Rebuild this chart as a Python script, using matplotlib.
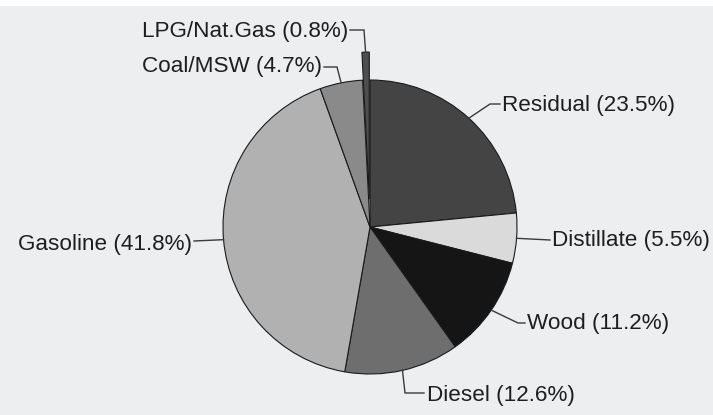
import numpy as np
import matplotlib.pyplot as plt
from matplotlib.patches import Rectangle

# fuel shares, clockwise from 12 o'clock
fuels = ['Residual', 'Distillate', 'Wood', 'Diesel', 'Gasoline', 'Coal/MSW', 'LPG/Nat.Gas']
shares = [23.5, 5.5, 11.2, 12.6, 41.8, 4.7, 0.8]
shades = ['#444444', '#dadada', '#151515', '#6e6e6e', '#b1b1b1', '#8a8a8a', '#4e4e4e']
explode = [0, 0, 0, 0, 0, 0, 0.19]

W, H = 713, 415
R = 147.0          # pie radius in pixels
CX, CY = 370, 227  # pie centre in pixels (from top-left)


def px(x, y):
    """pixel position (top-left origin) -> data units of the pie axes"""
    return (x - CX) / R, (CY - y) / R


# leader layout: elbow point, end of line, text anchor, alignment
leaders = {
    'Residual':    dict(elbow=(490, 104), end=(500, 104), text=(502, 105), ha='left'),
    'Distillate':  dict(elbow=None, end=(550, 240), text=(552, 240), ha='left'),
    'Wood':        dict(elbow=(518, 323), end=(525, 323), text=(527, 323), ha='left'),
    'Diesel':      dict(elbow=(405, 393), end=(424, 393), text=(427, 395), ha='left'),
    'Gasoline':    dict(elbow=None, end=(194, 241), text=(192, 244), ha='right'),
    'Coal/MSW':    dict(elbow=(337, 67), end=(324, 67), text=(322, 66), ha='right'),
    'LPG/Nat.Gas': dict(elbow=(364, 30), end=(350, 30), text=(348, 31), ha='right'),
}

plt.rcParams['font.family'] = ['Liberation Sans', 'DejaVu Sans']

fig = plt.figure(figsize=(W / 100, H / 100), dpi=100)
fig.patch.set_facecolor('#eceef0')
# white strip left at the top of the page
fig.patches.append(Rectangle((0, 1 - 6 / H), 1, 6 / H, transform=fig.transFigure,
                             facecolor='white', edgecolor='none'))

ax = fig.add_axes([0, 0, 1, 1])
ax.set_facecolor('none')

wedges, _ = ax.pie(shares, colors=shades, explode=explode, startangle=90,
                   counterclock=False, radius=1,
                   wedgeprops=dict(edgecolor='#1a1a1a', linewidth=0.8))

# pie() resets the limits, so fix the view afterwards
ax.set_xlim(-CX / R, (W - CX) / R)
ax.set_ylim(-(H - CY) / R, CY / R)
ax.set_aspect('auto')
ax.axis('off')

for w, name, share in zip(wedges, fuels, shares):
    mid = np.deg2rad((w.theta1 + w.theta2) / 2)
    r = w.r
    cx, cy = w.center
    start = (cx + r * np.cos(mid), cy + r * np.sin(mid))
    lay = leaders[name]
    pts = [start]
    if lay['elbow'] is not None:
        pts.append(px(*lay['elbow']))
    pts.append(px(*lay['end']))
    xs, ys = zip(*pts)
    ax.plot(xs, ys, color='#3a3a3a', linewidth=1.0, solid_joinstyle='miter')
    tx, ty = px(*lay['text'])
    ax.text(tx, ty, f'{name} ({share}%)', ha=lay['ha'], va='center',
            fontsize=16.2, color='#1e1e1e')

fig.savefig('out.png', dpi=100, facecolor=fig.get_facecolor())
